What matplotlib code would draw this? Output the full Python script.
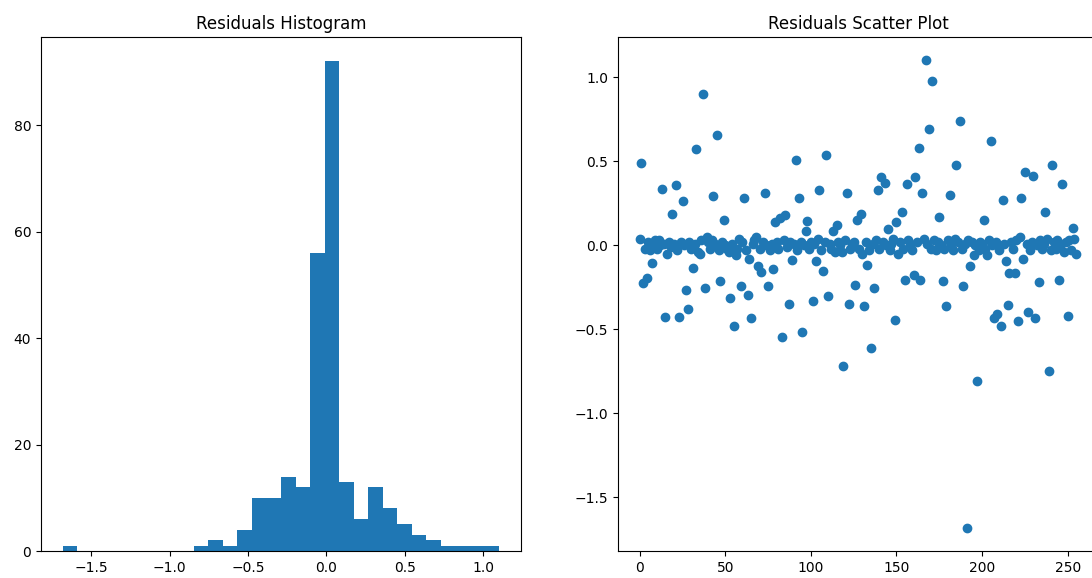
import numpy as np
import matplotlib
matplotlib.use("Agg")
import matplotlib.pyplot as plt

residuals = np.array([
    0.04, 0.488, -0.226, -0.02, -0.195, 0.02, -0.03, -0.107, 0.01, 0.03,
    -0.02, 0.03, 0.00, 0.335, 0.01, -0.425, -0.05, 0.02, -0.01, 0.187,
    0.01, 0.36, -0.03, -0.425, 0.02, 0.262, 0.00, -0.266, -0.379, 0.02,
    -0.02, -0.133, 0.01, 0.571, -0.04, -0.05, 0.03, 0.90, -0.256, 0.05,
    0.02, -0.02, 0.03, 0.291, 0.01, 0.655, -0.03, -0.21, 0.02, 0.149,
    0.00, -0.02, -0.04, -0.311, 0.01, -0.48, -0.06, -0.02, 0.035, -0.244,
    0.02, 0.28, -0.03, -0.295, -0.08, -0.435, 0.01, 0.03, 0.05, -0.123,
    -0.02, -0.159, 0.02, 0.31, 0.00, -0.244, -0.03, 0.01, -0.143, 0.139,
    0.02, -0.02, 0.165, -0.548, 0.03, 0.179, -0.01, -0.347, 0.02, -0.085,
    0.01, 0.506, -0.03, 0.28, 0.02, -0.516, 0.00, 0.085, 0.143, -0.02,
    0.02, -0.331, 0.01, -0.095, 0.04, 0.327, -0.03, -0.153, 0.02, 0.536,
    -0.302, 0.01, -0.02, 0.085, -0.04, 0.123, 0.02, 0.00, -0.04, -0.716,
    0.03, 0.31, -0.347, -0.02, 0.01, 0.02, -0.238, 0.151, -0.02, 0.183,
    -0.055, -0.359, 0.02, -0.115, -0.03, -0.613, 0.01, -0.256, 0.03, 0.327,
    -0.02, 0.407, 0.02, 0.369, 0.00, 0.097, -0.03, 0.01, 0.04, -0.443,
    0.139, -0.05, 0.02, 0.198, -0.02, -0.208, 0.367, 0.03, 0.01, -0.03,
    -0.175, 0.405, 0.02, 0.58, -0.205, 0.311, 0.04, 1.10, 0.01, 0.694,
    -0.02, 0.978, 0.03, -0.03, 0.02, 0.17, 0.00, -0.21, -0.02, -0.359,
    0.03, 0.30, 0.01, -0.03, 0.04, 0.48, 0.02, 0.742, -0.02, -0.244,
    0.01, -1.68, 0.03, -0.123, 0.02, -0.06, 0.00, -0.808, -0.03, 0.02,
    0.01, 0.151, -0.02, -0.06, 0.03, 0.619, 0.00, -0.433, 0.02, -0.407,
    -0.03, -0.48, 0.272, 0.01, -0.095, -0.355, -0.163, 0.02, -0.02, -0.163,
    0.03, -0.452, 0.05, 0.282, -0.083, 0.433, 0.01, -0.397, -0.03, 0.02,
    0.41, -0.433, 0.00, -0.218, 0.03, -0.02, 0.01, 0.198, 0.04, -0.75,
    -0.03, 0.48, 0.02, -0.02, 0.03, -0.208, 0.01, 0.365, -0.04, 0.02,
    -0.423, 0.03, -0.03, 0.105, 0.04, -0.05,
])
index = np.arange(len(residuals))

fig = plt.figure(figsize=(10.92, 5.78), dpi=100)

# -------- Histogram --------
ax1 = fig.add_axes([0.0375, 0.0467, 0.4396, 0.8893])
ax1.hist(residuals, bins=30)
ax1.set_title("Residuals Histogram")

# -------- Scatter (right edge falls outside the figure, as in the original) --------
ax2 = fig.add_axes([0.5659, 0.0467, 0.4396, 0.8893])
ax2.scatter(index, residuals)
ax2.set_title("Residuals Scatter Plot")

fig.savefig("out.png", dpi=100)
